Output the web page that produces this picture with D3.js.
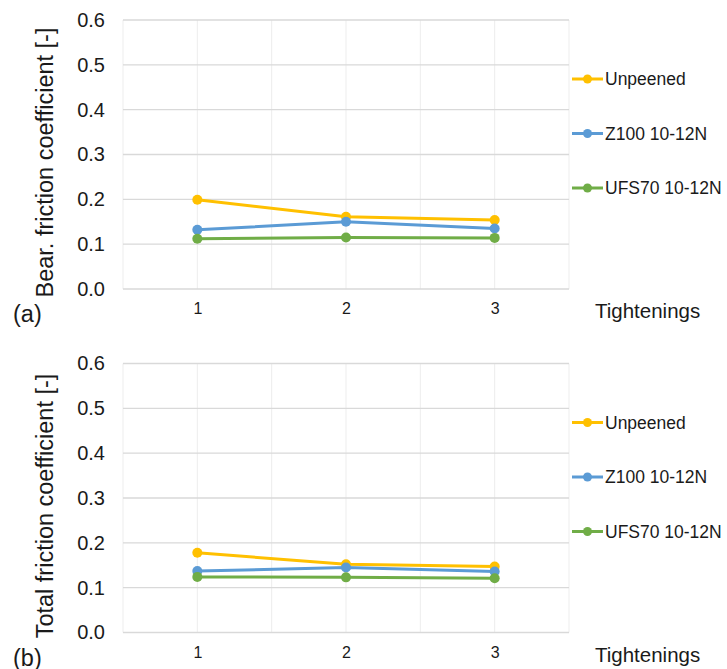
<!DOCTYPE html>
<html>
<head>
<meta charset="utf-8">
<script src="https://cdn.jsdelivr.net/npm/d3@7/dist/d3.min.js"></script>
<style>
  html, body { margin: 0; padding: 0; background: #fff; }
  svg { display: block; font-family: "Liberation Sans", Arial, sans-serif; }
</style>
</head>
<body>
<svg id="chart" width="727" height="669"></svg>
<script>
// ---- data ----
const tightenings = [1, 2, 3];
const yTickValues = [0, 0.1, 0.2, 0.3, 0.4, 0.5, 0.6];
const seriesNames = ["Unpeened", "Z100 10-12N", "UFS70 10-12N"];
const seriesColors = ["#FFC000", "#5B9BD5", "#70AD47"];

const bearUnpeened = [0.199, 0.161, 0.154];
const bearZ100     = [0.132, 0.150, 0.135];
const bearUFS70    = [0.112, 0.115, 0.114];

const totalUnpeened = [0.178, 0.152, 0.147];
const totalZ100     = [0.137, 0.145, 0.136];
const totalUFS70    = [0.124, 0.123, 0.121];

const panels = [
  { label: "(a)", title: "Bear. friction coefficient [-]", series: [bearUnpeened, bearZ100, bearUFS70], top: 20 },
  { label: "(b)", title: "Total friction coefficient [-]", series: [totalUnpeened, totalZ100, totalUFS70], top: 363.5 }
];

// ---- drawing ----
const svg = d3.select("#chart");
const plotLeft = 123, plotRight = 569, plotH = 269;

const x = d3.scaleLinear().domain([0.5, 3.5]).range([plotLeft, plotRight]);
const vGrid = d3.range(0.5, 3.51, 0.5);

panels.forEach(p => {
  const g = svg.append("g").attr("transform", `translate(0,${p.top})`);
  const y = d3.scaleLinear().domain([0, 0.6]).range([plotH, 0]);

  // vertical gridlines
  g.append("g").selectAll("line").data(vGrid).join("line")
    .attr("x1", d => x(d)).attr("x2", d => x(d))
    .attr("y1", 0).attr("y2", plotH)
    .attr("stroke", "#EDEDED").attr("stroke-width", 1);

  // horizontal gridlines
  g.append("g").selectAll("line").data(yTickValues).join("line")
    .attr("x1", plotLeft).attr("x2", plotRight)
    .attr("y1", d => y(d)).attr("y2", d => y(d))
    .attr("stroke", "#D9D9D9").attr("stroke-width", 1.3);

  // y axis labels
  const yAxis = d3.axisLeft(y).tickValues(yTickValues).tickFormat(d3.format(".1f")).tickSize(0).tickPadding(18);
  const ya = g.append("g").attr("transform", `translate(${plotLeft},0)`).call(yAxis);
  ya.select(".domain").remove();
  ya.selectAll("text").attr("font-size", 20).attr("fill", "#1a1a1a")
    .attr("font-family", '"Liberation Sans", Arial, sans-serif');

  // x axis labels
  const xAxis = d3.axisBottom(x).tickValues(tightenings).tickFormat(d3.format("d")).tickSize(0).tickPadding(14);
  const xa = g.append("g").attr("transform", `translate(0,${plotH})`).call(xAxis);
  xa.select(".domain").remove();
  xa.selectAll("text").attr("font-size", 16).attr("fill", "#1a1a1a")
    .attr("font-family", '"Liberation Sans", Arial, sans-serif');

  // y title
  g.append("text")
    .attr("transform", `translate(53,${plotH / 2 + 8}) rotate(-90)`)
    .attr("text-anchor", "middle")
    .attr("font-size", 23.5).attr("fill", "#1a1a1a")
    .text(p.title);

  // panel label
  g.append("text").attr("x", 13).attr("y", plotH + 33)
    .attr("font-size", 23.5).attr("fill", "#1a1a1a").text(p.label);

  // x title
  g.append("text").attr("x", 595).attr("y", plotH + 29)
    .attr("font-size", 20.5).attr("fill", "#1a1a1a").text("Tightenings");

  // series
  const line = d3.line().x((d, i) => x(tightenings[i])).y(d => y(d));
  p.series.forEach((vals, si) => {
    const sg = g.append("g");
    sg.append("path").datum(vals).attr("d", line)
      .attr("fill", "none").attr("stroke", seriesColors[si]).attr("stroke-width", 3);
    sg.selectAll("circle").data(vals).join("circle")
      .attr("cx", (d, i) => x(tightenings[i])).attr("cy", d => y(d))
      .attr("r", 5).attr("fill", seriesColors[si]);
  });

  // legend
  const lg = g.append("g");
  seriesNames.forEach((name, si) => {
    const ly = 59 + si * 54.5;
    lg.append("line").attr("x1", 572).attr("x2", 603).attr("y1", ly).attr("y2", ly)
      .attr("stroke", seriesColors[si]).attr("stroke-width", 3);
    lg.append("circle").attr("cx", 587.5).attr("cy", ly).attr("r", 4.5).attr("fill", seriesColors[si]);
    lg.append("text").attr("x", 605).attr("y", ly).attr("dy", "0.35em")
      .attr("font-size", 17.5).attr("fill", "#1a1a1a").text(name);
  });
});
</script>
</body>
</html>
